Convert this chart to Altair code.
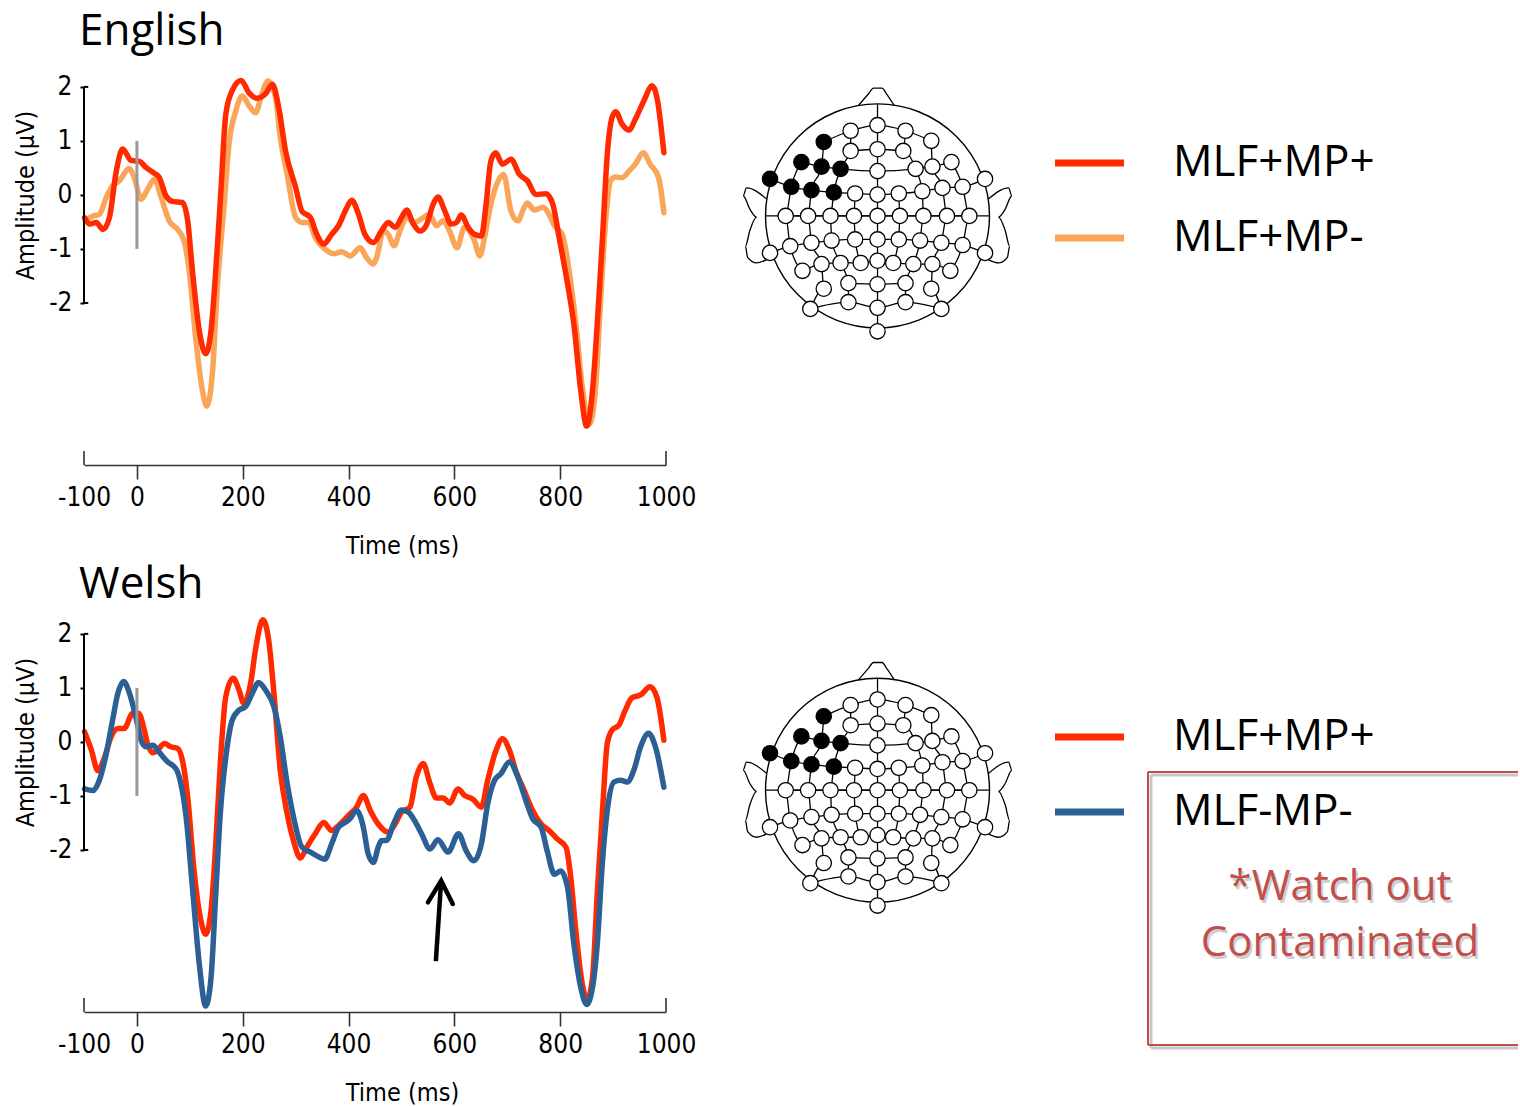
import altair as alt
import pandas as pd

# ---------------- data ----------------
x_ticks = [-100, 0, 200, 400, 600, 800, 1000]
y_ticks = [-2, -1, 0, 1, 2]

en_red_t = [-99, -89, -77, -64, -52, -39, -27, -11, 5, 17, 33, 42, 55, 67, 86, 96, 105, 118, 130, 140, 149, 158, 168, 180, 197, 212, 227, 243, 256, 268, 281, 300, 312, 328, 340, 353, 368, 381, 397, 406, 419, 431, 447, 462, 475, 488, 500, 510, 522, 535, 547, 560, 569, 582, 594, 604, 613, 626, 638, 651, 660, 669, 678, 691, 707, 723, 738, 754, 773, 786, 798, 814, 826, 839, 850, 861, 870, 880, 889, 898, 905, 917, 930, 942, 958, 974, 983, 996]
en_red_v = [-0.42, -0.54, -0.51, -0.64, -0.42, 0.44, 0.85, 0.64, 0.62, 0.51, 0.40, 0.33, -0.02, -0.12, -0.14, -0.48, -1.41, -2.52, -2.94, -2.52, -1.41, -0.05, 1.49, 1.93, 2.12, 1.89, 1.79, 1.87, 2.05, 1.62, 0.81, 0.14, -0.30, -0.42, -0.73, -0.91, -0.73, -0.57, -0.23, -0.10, -0.36, -0.73, -0.88, -0.67, -0.51, -0.60, -0.42, -0.28, -0.53, -0.67, -0.56, -0.17, -0.04, -0.30, -0.54, -0.51, -0.37, -0.60, -0.73, -0.76, -0.17, 0.63, 0.78, 0.57, 0.66, 0.38, 0.26, 0.01, 0.02, -0.17, -0.79, -1.65, -2.40, -3.63, -4.28, -3.63, -2.40, -0.79, 0.75, 1.43, 1.54, 1.31, 1.20, 1.40, 1.74, 2.02, 1.80, 0.78]

en_org_t = [-98, -83, -71, -58, -46, -33, -15, -5, 8, 20, 33, 46, 61, 77, 89, 99, 111, 124, 132, 143, 152, 165, 174, 187, 199, 212, 224, 236, 248, 262, 271, 284, 300, 312, 325, 337, 356, 372, 387, 403, 422, 434, 447, 453, 466, 475, 486, 497, 510, 525, 541, 553, 566, 579, 591, 605, 619, 629, 638, 648, 657, 669, 679, 693, 707, 720, 732, 738, 751, 767, 779, 789, 804, 817, 829, 842, 855, 867, 876, 886, 895, 905, 917, 930, 942, 957, 970, 986, 996]
en_org_v = [-0.48, -0.39, -0.36, -0.05, 0.17, 0.26, 0.49, 0.32, -0.08, 0.10, 0.29, -0.05, -0.48, -0.64, -0.85, -1.41, -2.64, -3.63, -3.91, -3.26, -1.72, -0.17, 0.94, 1.56, 1.83, 1.65, 1.52, 1.86, 2.11, 1.80, 1.06, 0.38, -0.42, -0.51, -0.51, -0.79, -1.01, -1.09, -1.05, -1.13, -0.98, -1.16, -1.28, -1.16, -0.67, -0.73, -0.94, -0.67, -0.42, -0.51, -0.42, -0.36, -0.57, -0.48, -0.67, -0.98, -0.60, -0.67, -0.85, -1.13, -0.79, -0.17, 0.17, 0.38, -0.30, -0.48, -0.23, -0.15, -0.28, -0.23, -0.36, -0.57, -0.73, -1.41, -2.33, -3.57, -4.25, -3.57, -2.02, -0.48, 0.26, 0.33, 0.32, 0.44, 0.57, 0.78, 0.57, 0.32, -0.33]

cy_red_t = [-99, -86, -74, -61, -49, -36, -24, -8, 3, 14, 20, 30, 39, 52, 64, 77, 86, 96, 108, 121, 130, 140, 149, 158, 168, 182, 193, 202, 215, 224, 238, 249, 259, 271, 284, 296, 309, 321, 337, 353, 368, 384, 400, 415, 428, 441, 456, 475, 488, 500, 516, 528, 541, 554, 566, 579, 591, 607, 619, 635, 651, 663, 679, 691, 704, 716, 732, 748, 764, 779, 795, 811, 820, 829, 842, 851, 861, 870, 880, 889, 898, 911, 923, 936, 952, 970, 983, 996]
cy_red_v = [0.19, -0.15, -0.53, -0.28, 0.09, 0.25, 0.25, 0.53, 0.53, 0.22, -0.03, -0.20, -0.15, -0.03, -0.09, -0.12, -0.34, -1.02, -2.38, -3.31, -3.56, -3.13, -1.89, -0.34, 0.84, 1.18, 0.96, 0.71, 1.09, 1.70, 2.26, 1.89, 0.90, -0.53, -1.33, -1.83, -2.15, -1.95, -1.70, -1.49, -1.64, -1.52, -1.36, -1.21, -0.99, -1.27, -1.52, -1.67, -1.52, -1.30, -1.21, -0.65, -0.40, -0.77, -1.04, -1.04, -1.13, -0.87, -0.99, -1.06, -1.21, -0.71, -0.15, 0.06, -0.15, -0.53, -0.90, -1.27, -1.52, -1.64, -1.80, -1.95, -2.51, -3.44, -4.49, -4.77, -4.37, -2.82, -1.27, -0.03, 0.22, 0.31, 0.59, 0.82, 0.87, 1.02, 0.82, 0.03]

cy_blu_t = [-99, -83, -71, -58, -46, -36, -25, -14, -2, 8, 17, 30, 42, 58, 74, 83, 93, 105, 118, 130, 140, 149, 158, 168, 180, 193, 205, 218, 230, 243, 259, 271, 284, 296, 312, 328, 340, 355, 368, 381, 394, 403, 415, 428, 437, 447, 456, 462, 472, 485, 500, 513, 525, 538, 554, 569, 588, 608, 622, 637, 651, 663, 676, 688, 704, 720, 735, 748, 764, 776, 789, 801, 814, 826, 839, 850, 861, 870, 880, 889, 902, 914, 927, 939, 952, 967, 980, 996]
cy_blu_v = [-0.87, -0.90, -0.71, -0.22, 0.40, 0.90, 1.12, 0.90, 0.46, 0.03, -0.09, -0.06, -0.19, -0.37, -0.50, -0.77, -1.39, -2.70, -4.12, -4.89, -4.37, -2.82, -1.27, -0.28, 0.40, 0.59, 0.65, 0.90, 1.10, 0.96, 0.65, 0.09, -0.77, -1.39, -1.95, -2.04, -2.11, -2.17, -1.89, -1.58, -1.49, -1.42, -1.27, -1.58, -2.07, -2.23, -1.95, -1.83, -1.82, -1.52, -1.26, -1.30, -1.46, -1.70, -1.98, -1.81, -2.04, -1.70, -2.01, -2.20, -1.89, -1.15, -0.71, -0.59, -0.37, -0.65, -1.08, -1.42, -1.58, -2.04, -2.45, -2.39, -2.70, -3.75, -4.55, -4.86, -4.55, -3.75, -2.20, -1.27, -0.74, -0.71, -0.74, -0.53, -0.09, 0.16, -0.09, -0.84]

# arrow annotation in the Welsh panel (time ms, amplitude uV)
arrow_shaft_t = [565, 575]
arrow_shaft_v = [-4.06, -2.57]
arrow_head_t = [550, 575, 597]
arrow_head_v = [-2.97, -2.57, -3.00]

en_conds = ["MLF+MP+", "MLF+MP-"]
cy_conds = ["MLF+MP+", "MLF-MP-"]
note_lines = ["*Watch out", "Contaminated"]

# electrode montage (head radius = 1)
elec_rows = [
    [(-0.48, 0.66), (-0.24, 0.76), (0, 0.81), (0.25, 0.76), (0.48, 0.67)],
    [(-0.24, 0.58), (0, 0.595), (0.23, 0.58)],
    [(-0.68, 0.48), (-0.50, 0.44), (-0.33, 0.42), (0, 0.40), (0.34, 0.42), (0.49, 0.44), (0.66, 0.48)],
    [(-0.96, 0.33), (-0.77, 0.26), (-0.59, 0.23), (-0.39, 0.21), (-0.20, 0.20), (0, 0.19), (0.19, 0.20), (0.40, 0.22), (0.58, 0.25), (0.76, 0.26), (0.96, 0.33)],
    [(-0.82, 0), (-0.62, 0), (-0.42, 0), (-0.21, 0), (0, 0), (0.20, 0), (0.41, 0), (0.62, 0), (0.82, 0)],
    [(-0.96, -0.33), (-0.78, -0.27), (-0.59, -0.24), (-0.41, -0.22), (-0.20, -0.21), (0, -0.21), (0.19, -0.21), (0.38, -0.22), (0.57, -0.24), (0.76, -0.26), (0.96, -0.33)],
    [(-0.67, -0.49), (-0.50, -0.43), (-0.33, -0.42), (-0.15, -0.42), (0, -0.40), (0.14, -0.42), (0.32, -0.43), (0.49, -0.43), (0.65, -0.49)],
    [(-0.26, -0.60), (0, -0.61), (0.25, -0.60)],
    [(-0.60, -0.83), (-0.26, -0.77), (0, -0.82), (0.25, -0.77), (0.57, -0.83)],
]
elec_single = [(-0.48, -0.65), (0.48, -0.65), (0, -1.03)]
elec_active = [(-0.48, 0.66), (-0.68, 0.48), (-0.50, 0.44), (-0.33, 0.42), (-0.96, 0.33), (-0.77, 0.26), (-0.59, 0.23), (-0.39, 0.21)]
grid_cols = [
    [(-1.0, 0), (1.0, 0)],
    [(0, 1.0), (0, -1.03)],
    [(-0.24, 0.76), (-0.24, 0.58), (-0.33, 0.42), (-0.39, 0.21), (-0.42, 0), (-0.41, -0.22), (-0.33, -0.42), (-0.26, -0.60), (-0.26, -0.77)],
    [(-0.48, 0.66), (-0.50, 0.44), (-0.59, 0.23), (-0.62, 0), (-0.59, -0.24), (-0.50, -0.43), (-0.48, -0.65), (-0.60, -0.83)],
    [(-0.68, 0.48), (-0.77, 0.26), (-0.82, 0), (-0.78, -0.27), (-0.67, -0.49)],
    [(-0.20, 0.20), (-0.21, 0), (-0.20, -0.21), (-0.15, -0.42)],
    [(0.25, 0.76), (0.23, 0.58), (0.34, 0.42), (0.40, 0.22), (0.41, 0), (0.38, -0.22), (0.32, -0.43), (0.25, -0.60), (0.25, -0.77)],
    [(0.48, 0.67), (0.49, 0.44), (0.58, 0.25), (0.62, 0), (0.57, -0.24), (0.49, -0.43), (0.48, -0.65), (0.57, -0.83)],
    [(0.66, 0.48), (0.76, 0.26), (0.82, 0), (0.76, -0.26), (0.65, -0.49)],
    [(0.19, 0.20), (0.20, 0), (0.19, -0.21), (0.14, -0.42)],
]
nose = [(-0.17, 0.985), (-0.08, 1.09), (-0.036, 1.14), (0.04, 1.14), (0.08, 1.09), (0.15, 0.985)]
ear_left = [(-0.99, 0.15), (-1.17, 0.25), (-1.20, 0.18), (-1.14, 0.06), (-1.08, -0.01), (-1.14, -0.13), (-1.18, -0.27), (-1.16, -0.37), (-1.08, -0.42), (-0.99, -0.39)]

# ---------------- styling ----------------
RED = "#FF2A00"
ORANGE = "#F9A55A"
BLUE = "#2C5F93"
GREY = "#999999"
AX_FONT = "Liberation Sans Narrow, DejaVu Sans Condensed, Liberation Sans"
TXT_FONT = "Open Sans"

W, H = 582, 397
YDOM = [-5.0, 2.35]
xs = alt.Scale(domain=[x_ticks[0], x_ticks[-1]], nice=False, zero=False)
ys = alt.Scale(domain=YDOM, nice=False, zero=False)

XAXIS = alt.Axis(values=x_ticks, title="Time (ms)", labelFont=AX_FONT, labelFontSize=26,
                 titleFont=AX_FONT, titleFontSize=25, titleFontWeight="normal",
                 labelColor="black", titleColor="black", domainColor="#333333", domainWidth=1.6,
                 tickColor="#333333", tickWidth=1.6, tickSize=14, labelPadding=5,
                 titleX=318, titleY=80, titleAlign="center", titleBaseline="middle",
                 tickOpacity={"condition": {"test": "datum.value == -100 || datum.value == 1000", "value": 0}, "value": 1},
                 labelExpr="'' + datum.value", labelFlush=False, labelOverlap=False, grid=False)
YAXIS = alt.Axis(values=y_ticks, title="Amplitude (µV)", labelFont=AX_FONT, labelFontSize=26,
                 titleFont=AX_FONT, titleFontSize=25, titleFontWeight="normal",
                 labelColor="black", titleColor="black", domain=False, tickColor="black",
                 tickWidth=2, tickSize=4, labelPadding=8,
                 titleX=-59, titleY=127, titleAlign="center", titleBaseline="middle", titleAngle=270,
                 labelExpr="'' + datum.value", labelOverlap=False, grid=False)


def X(field):
    return alt.X(field, scale=xs, axis=XAXIS)


def Y(field):
    return alt.Y(field, scale=ys, axis=YAXIS)


def series_df(t, v):
    return pd.DataFrame({"t": t, "v": v})


def erp_panel(title, series, arrow=False, title_offset=16):
    layers = []
    for (t, v, col) in series:
        layers.append(alt.Chart(series_df(t, v)).mark_line(color=col, strokeWidth=5.5, interpolate="monotone",
                                                             strokeCap="round", strokeJoin="round").encode(
            x=X("t:Q"), y=Y("v:Q")))
    # stimulus onset marker
    onset = pd.DataFrame({"t": [0], "lo": [-1], "hi": [1]})
    layers.append(alt.Chart(onset).mark_rule(color=GREY, strokeWidth=3).encode(
        x=X("t:Q"), y=Y("lo:Q"), y2="hi:Q"))
    # y-axis bracket
    yline = pd.DataFrame({"t": [x_ticks[0]], "lo": [y_ticks[0]], "hi": [y_ticks[-1]]})
    layers.append(alt.Chart(yline).mark_rule(color="black", strokeWidth=2).encode(
        x=X("t:Q"), y=Y("lo:Q"), y2="hi:Q"))
    ends = pd.DataFrame({"t": [x_ticks[0]] * 2, "t1": [x_ticks[0] + 8] * 2, "v": [y_ticks[0], y_ticks[-1]]})
    layers.append(alt.Chart(ends).mark_rule(color="black", strokeWidth=2).encode(
        x=X("t:Q"), x2="t1:Q", y=Y("v:Q")))
    # x-axis end ticks pointing up
    xend = pd.DataFrame({"t": [x_ticks[0], x_ticks[-1]], "v": [YDOM[0]] * 2, "hi": [YDOM[0] + 0.26] * 2})
    layers.append(alt.Chart(xend).mark_rule(color="#333333", strokeWidth=1.6).encode(
        x=X("t:Q"), y=Y("v:Q"), y2="hi:Q"))
    if arrow:
        layers.append(alt.Chart(series_df(arrow_shaft_t, arrow_shaft_v)).mark_line(color="black", strokeWidth=4.5).encode(
            x=X("t:Q"), y=Y("v:Q")))
        layers.append(alt.Chart(series_df(arrow_head_t, arrow_head_v)).mark_line(color="black", strokeWidth=4.5,
                                                                                  strokeJoin="miter", strokeCap="round").encode(
            x=X("t:Q"), y=Y("v:Q"), order="t:Q"))
    return alt.layer(*layers).properties(
        width=W, height=H,
        title=alt.TitleParams(title, anchor="start", frame="group", font=TXT_FONT, fontSize=44,
                              fontWeight="normal", color="black", offset=title_offset, dx=-5))


def head_map(xdom, ydom, width, height):
    hx = alt.Scale(domain=xdom, nice=False, zero=False)
    hy = alt.Scale(domain=ydom, nice=False, zero=False)
    line_rows = []
    gid = 0
    for grp in elec_rows + grid_cols:
        if len(grp) > 1:
            for k, (u, v) in enumerate(grp):
                line_rows.append({"g": gid, "k": k, "u": u, "v": v})
            gid += 1
    for shape in (nose, ear_left, [(-u, v) for (u, v) in ear_left]):
        for k, (u, v) in enumerate(shape):
            line_rows.append({"g": gid, "k": k, "u": u, "v": v})
        gid += 1
    lines_df = pd.DataFrame(line_rows)
    pts = []
    for grp in elec_rows:
        pts += grp
    pts += elec_single
    elec_df = pd.DataFrame({"u": [p[0] for p in pts], "v": [p[1] for p in pts],
                            "on": [p in elec_active for p in pts]})
    base_x = alt.X("u:Q", scale=hx, axis=None)
    base_y = alt.Y("v:Q", scale=hy, axis=None)
    grid = alt.Chart(lines_df).mark_line(color="black", strokeWidth=1.3, interpolate="monotone").encode(
        x=base_x, y=base_y, detail="g:N", order="k:Q")
    outline = alt.Chart(pd.DataFrame({"u": [0], "v": [0]})).mark_point(
        shape="circle", size=224 * 224, filled=False, color="black", strokeWidth=1.4, opacity=1).encode(x=base_x, y=base_y)
    elecs = alt.Chart(elec_df).mark_point(shape="circle", size=235, filled=True, stroke="black",
                                          strokeWidth=1.3, opacity=1).encode(
        x=base_x, y=base_y,
        fill=alt.condition("datum.on", alt.value("black"), alt.value("white")))
    return alt.layer(grid, outline, elecs).properties(width=width, height=height)


def legend_panel(conds, colors, ypos, width, height, note=False):
    df = pd.DataFrame({"cond": conds, "col": colors})
    yenc = alt.Y("cond:N", scale=alt.Scale(type="point", domain=conds, range=ypos, padding=0), axis=None)
    sw = alt.Chart(df).mark_rule(strokeWidth=7).encode(
        x=alt.value(15), x2=alt.value(84), y=yenc,
        color=alt.Color("col:N", scale=None))
    tx = alt.Chart(df).mark_text(align="left", baseline="middle", font=TXT_FONT, fontSize=44,
                                 color="black").encode(x=alt.value(133), y=yenc, text="cond:N")
    layers = [alt.layer(sw, tx)]
    if note:
        box = pd.DataFrame({"k": [0]})
        shadow = "#C8C8C8"
        top, bot, left = 157, 430, 108
        for (dx, col, sw_) in ((3, shadow, 3), (0, "#C0504D", 2)):
            layers.append(alt.Chart(box).mark_rule(color=col, strokeWidth=sw_).encode(
                x=alt.value(left + dx), x2=alt.value(width), y=alt.value(top + dx)))
            layers.append(alt.Chart(box).mark_rule(color=col, strokeWidth=sw_).encode(
                x=alt.value(left + dx), x2=alt.value(width), y=alt.value(bot + dx)))
            layers.append(alt.Chart(box).mark_rule(color=col, strokeWidth=sw_).encode(
                x=alt.value(left + dx), y=alt.value(top + dx), y2=alt.value(bot + dx)))
        ndf = pd.DataFrame({"txt": note_lines, "i": [str(i) for i in range(len(note_lines))]})
        ny = alt.Y("i:N", scale=alt.Scale(type="point", domain=["0", "1"], range=[272, 328], padding=0), axis=None)
        note_layer = alt.layer(
            alt.Chart(ndf).mark_text(align="center", baseline="middle", font=TXT_FONT, fontSize=42,
                                     color="#888888", opacity=0.4, dx=2, dy=3).encode(
                x=alt.value(300), y=ny, text="txt:N"),
            alt.Chart(ndf).mark_text(align="center", baseline="middle", font=TXT_FONT, fontSize=42,
                                     color="#C0504D").encode(x=alt.value(300), y=ny, text="txt:N"))
        layers.append(note_layer)
    return alt.layer(*layers).resolve_scale(y="independent").properties(width=width, height=height)


en = erp_panel("English", [(en_org_t, en_org_v, ORANGE), (en_red_t, en_red_v, RED)], title_offset=14)
cy = erp_panel("Welsh", [(cy_red_t, cy_red_v, RED), (cy_blu_t, cy_blu_v, BLUE)], arrow=True, title_offset=8)

head_top = head_map([-1.621, 1.451], [-2.223, 1.32], 344, H)
head_bot = head_map([-1.621, 1.451], [-1.98, 1.564], 344, H)
leg_top = legend_panel(en_conds, [RED, ORANGE], [95, 170], 478, H)
leg_bot = legend_panel(cy_conds, [RED, BLUE], [122, 197], 478, H, note=True)

row1 = alt.hconcat(en, head_top, leg_top, spacing=0)
row2 = alt.hconcat(cy, head_bot, leg_bot, spacing=0)
chart = alt.vconcat(row1, row2, spacing=5).properties(
    padding={"left": 13, "top": 10, "right": 0, "bottom": 0}
).configure_view(stroke=None)

chart.save("out.html", embed_options={"renderer": "svg", "actions": False})
